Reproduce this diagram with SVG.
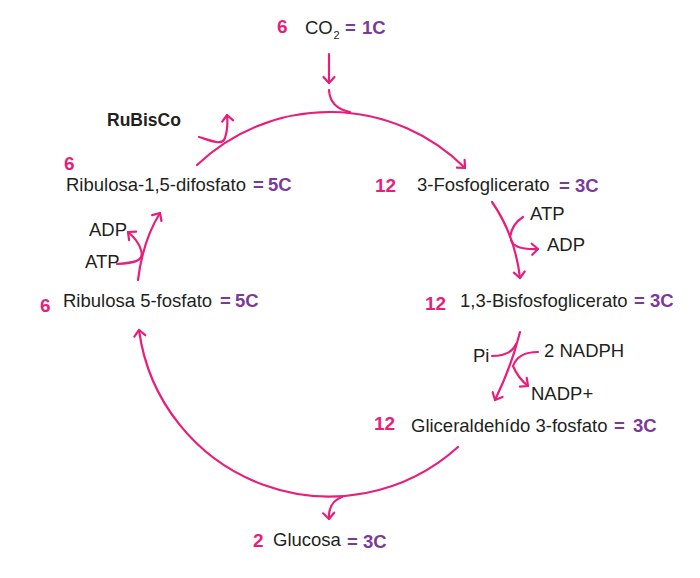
<svg xmlns="http://www.w3.org/2000/svg" width="700" height="578" viewBox="0 0 700 578">
<defs>
<marker id="ah" markerUnits="userSpaceOnUse" markerWidth="16" markerHeight="16" refX="0" refY="0" orient="auto" overflow="visible" viewBox="-8 -8 16 16">
<path d="M-6,-5.5 L0,0 L-6,5.5" fill="none" stroke="#E81E7A" stroke-width="2.2" stroke-linecap="round" stroke-linejoin="round"/>
</marker>
<style>
.t{font-family:"Liberation Sans",Arial,sans-serif;font-size:18.5px;fill:#231F20}
.n{font-family:"Liberation Sans",Arial,sans-serif;font-size:19px;font-weight:bold;fill:#E81E7A}
.c{font-family:"Liberation Sans",Arial,sans-serif;font-size:18.5px;font-weight:bold;fill:#7B3A97}
.b{font-family:"Liberation Sans",Arial,sans-serif;font-size:17.5px;font-weight:bold;fill:#231F20}
.l{fill:none;stroke:#E81E7A;stroke-width:2.2;stroke-linecap:round}
.a{marker-end:url(#ah)}
</style>
</defs>
<rect width="700" height="578" fill="#FFFFFF"/>
<g id="connectors">
<path class="l a" d="M197,165 A192,192 0 0 1 465,168"/>
<path class="l a" d="M458,447 A192,192 0 0 1 139,330"/>
<path class="l a" d="M329,54 L329,83"/>
<path class="l" d="M329,90 Q330,108 350,112"/>
<path class="l a" d="M199,137 C212,141 222,146 225,138 C227,132 228,124 227,115"/>
<path class="l a" d="M138,280 Q143,240 160,213"/>
<path class="l a" d="M117,264 C132,263 145,262 141,250 C139,243 134,237 128,232"/>
<path class="l a" d="M492,202 Q515,235 520,278"/>
<path class="l" d="M523,217 Q512,224 510,237"/>
<path class="l a" d="M511,240 Q514,250 538,249"/>
<path class="l a" d="M520,332 Q512,365 495,400"/>
<path class="l" d="M492,356 Q511,356 516,344"/>
<path class="l a" d="M538,352 Q518,352 513,366 Q518,378 528,386"/>
<path class="l a" d="M342,497 Q328,502 329,519"/>
</g>
<g id="co2">
<text class="n" x="277" y="33">6</text>
<text class="t" x="305" y="34">CO</text>
<text class="t" x="333.5" y="39" style="font-size:11px">2</text>
<text class="c" x="345" y="34">=</text>
<text class="c" x="362" y="34">1C</text>
</g>
<g id="rubisco">
<text class="b" x="107" y="126">RuBisCo</text>
</g>
<g id="rubp">
<text class="n" x="64" y="170">6</text>
<text class="t" x="66" y="191">Ribulosa-1,5-difosfato</text>
<text class="c" x="253" y="191">=</text>
<text class="c" x="268" y="191">5C</text>
</g>
<g id="atp-adp-left">
<text class="t" x="89" y="236">ADP</text>
<text class="t" x="85" y="268">ATP</text>
</g>
<g id="ru5p">
<text class="n" x="40" y="312">6</text>
<text class="t" x="63" y="307">Ribulosa 5-fosfato</text>
<text class="c" x="220" y="307">=</text>
<text class="c" x="235" y="307">5C</text>
</g>
<g id="pga">
<text class="n" x="375" y="192">12</text>
<text class="t" x="417" y="191">3-Fosfoglicerato</text>
<text class="c" x="559" y="192">=</text>
<text class="c" x="575" y="192">3C</text>
</g>
<g id="atp-adp-right">
<text class="t" x="530" y="220">ATP</text>
<text class="t" x="547" y="251">ADP</text>
</g>
<g id="bpg">
<text class="n" x="425" y="310">12</text>
<text class="t" x="460" y="307">1,3-Bisfosfoglicerato</text>
<text class="c" x="634" y="307">=</text>
<text class="c" x="650" y="307">3C</text>
</g>
<g id="nadph">
<text class="t" x="473" y="362">Pi</text>
<text class="t" x="544" y="357">2 NADPH</text>
<text class="t" x="531" y="400">NADP+</text>
</g>
<g id="g3p">
<text class="n" x="374" y="430">12</text>
<text class="t" x="411" y="432">Gliceraldehído 3-fosfato</text>
<text class="c" x="614" y="432">=</text>
<text class="c" x="633" y="432">3C</text>
</g>
<g id="glucosa">
<text class="n" x="253" y="547">2</text>
<text class="t" x="273" y="546">Glucosa</text>
<text class="c" x="347" y="548">=</text>
<text class="c" x="363" y="548">3C</text>
</g>
</svg>
